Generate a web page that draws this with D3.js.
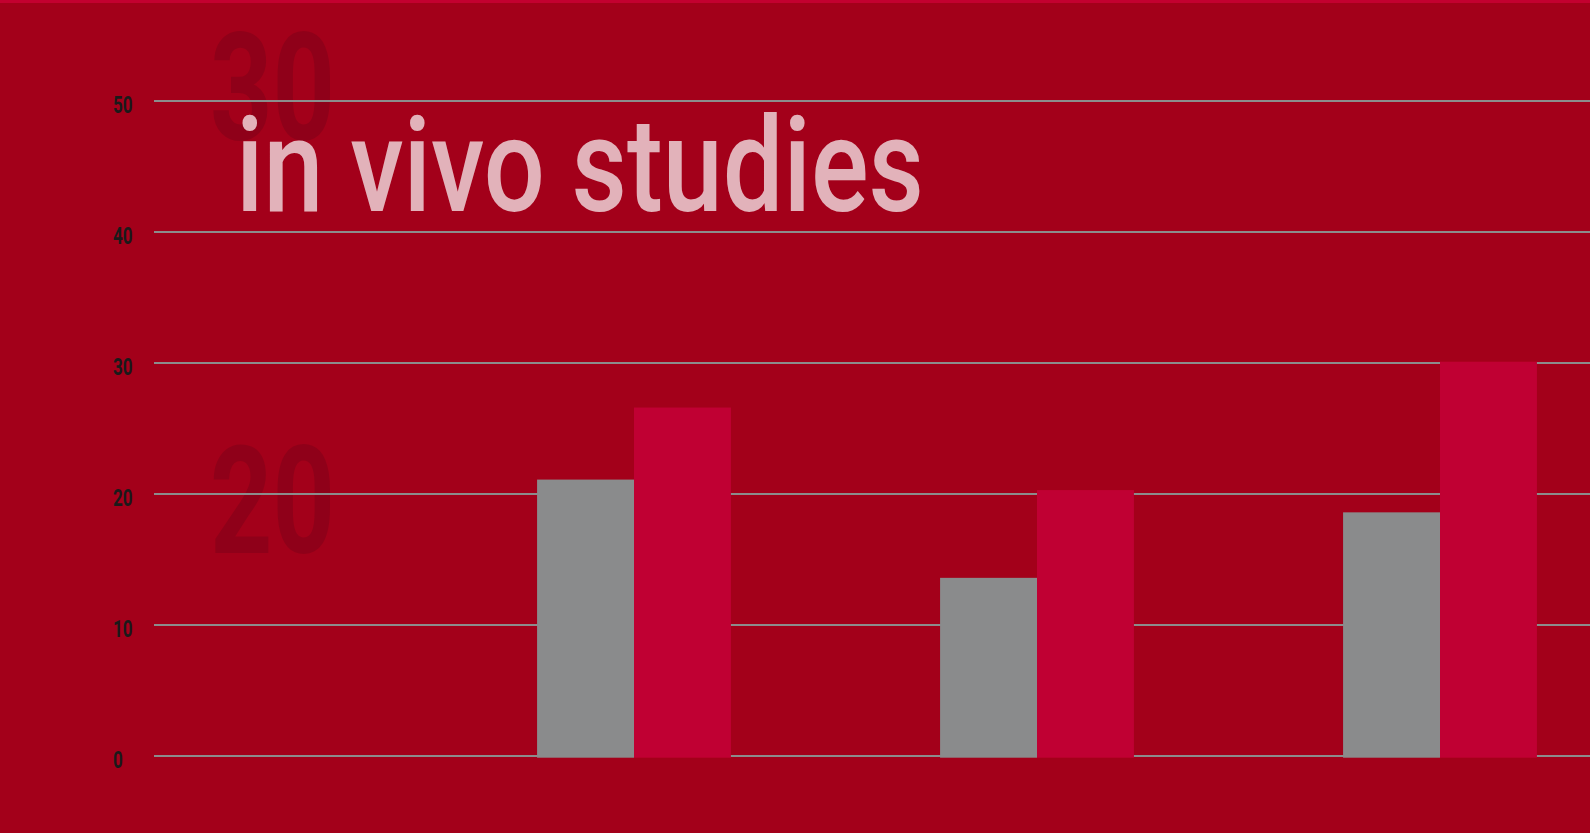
<!DOCTYPE html>
<html>
<head>
<meta charset="utf-8">
<script src="https://cdn.jsdelivr.net/npm/d3@7/dist/d3.min.js"></script>
<style>
  html, body { margin: 0; padding: 0; background: #a3001a; overflow: hidden; }
  svg { display: block; }
</style>
</head>
<body>
<svg id="chart" width="1590" height="833"></svg>
<script>
// ---- data ----
const categories = ["", "A", "B", "C"];
const seriesGray = [null, 21.1, 13.6, 18.6];
const seriesRed  = [null, 26.6, 20.3, 30.1];
const yTickValues = [0, 10, 20, 30, 40, 50];
const titleText = "in vivo studies";
const ghostLabels = ["30", "20"];

const W = 1590, H = 833;
const svg = d3.select("#chart");

svg.append("rect").attr("width", W).attr("height", H).attr("fill", "#a3001a");
svg.append("rect").attr("width", W).attr("height", 3).attr("fill", "#c3002f");

const y = d3.scaleLinear().domain([0, 50]).range([756, 101]);
const x0 = d3.scaleBand().domain(categories).range([29.5, 1641.5])
  .paddingInner(0.519).paddingOuter(0.2595);
const x1 = d3.scaleBand().domain(["gray", "red"]).range([0, x0.bandwidth()]);

// ghost decorative numbers
const ghost = svg.append("g");
ghost.selectAll("text").data(ghostLabels).enter().append("text")
  .attr("x", 210)
  .attr("y", (d, i) => i === 0 ? 140 : 553)
  .attr("font-family", "Roboto")
  .attr("font-weight", 700)
  .attr("font-size", 150)
  .attr("fill", "#8f0019")
  .attr("textLength", 125)
  .attr("lengthAdjust", "spacingAndGlyphs")
  .text(d => d);

// gridlines
svg.append("g").selectAll("line").data(yTickValues).enter().append("line")
  .attr("x1", 154).attr("x2", W)
  .attr("y1", d => y(d)).attr("y2", d => y(d))
  .attr("stroke", "#8c8c8c").attr("stroke-width", 2);

// y axis labels
const axis = svg.append("g").attr("transform", "translate(113,0)")
  .call(d3.axisLeft(y).tickValues(yTickValues).tickSize(0).tickFormat(d3.format("d")));
axis.select(".domain").remove();
axis.selectAll("text")
  .attr("x", 0).attr("dy", null).attr("y", 11)
  .attr("text-anchor", "start")
  .attr("font-family", "Roboto")
  .attr("font-weight", 700)
  .attr("font-size", 23)
  .attr("fill", "#1a1a1a")
  .attr("textLength", d => String(d).length * 9.8)
  .attr("lengthAdjust", "spacingAndGlyphs");

// title
svg.append("text")
  .attr("x", 236).attr("y", 211)
  .attr("font-family", "Roboto")
  .attr("font-weight", 500)
  .attr("font-size", 131)
  .attr("fill", "#e2b2ba")
  .attr("textLength", 688)
  .attr("lengthAdjust", "spacingAndGlyphs")
  .text(titleText);

// bars
const groups = svg.append("g").selectAll("g").data(categories).enter().append("g")
  .attr("transform", d => `translate(${x0(d)},0)`);
groups.selectAll("rect")
  .data((d, i) => [
    { key: "gray", v: seriesGray[i], color: "#8a8b8c" },
    { key: "red", v: seriesRed[i], color: "#c00033" }
  ].filter(e => e.v != null))
  .enter().append("rect")
  .attr("x", e => x1(e.key))
  .attr("width", x1.bandwidth())
  .attr("y", e => y(e.v))
  .attr("height", e => y(0) - y(e.v) + 1.7)
  .attr("fill", e => e.color);
</script>
</body>
</html>
